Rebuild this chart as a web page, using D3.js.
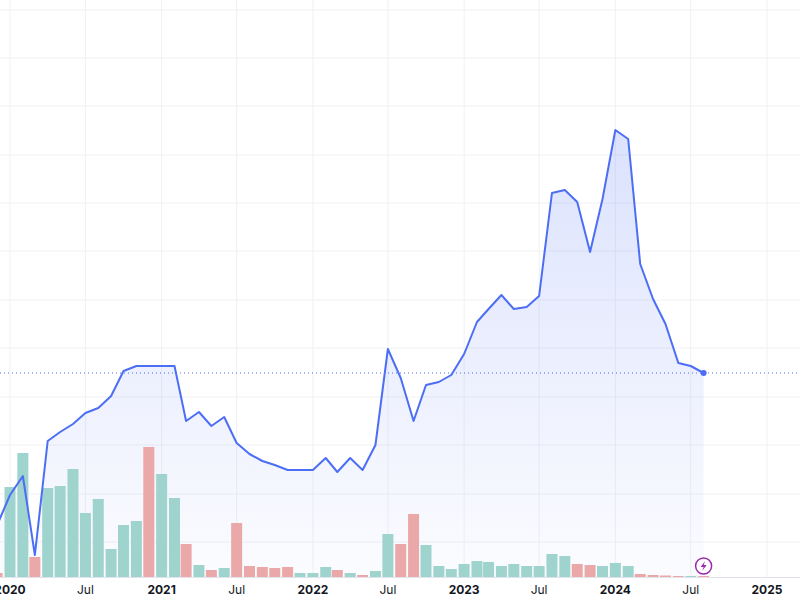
<!DOCTYPE html><html><head><meta charset="utf-8">
<script src="https://cdn.jsdelivr.net/npm/d3@7"></script>
<style>body{margin:0;background:#fff}svg{display:block;font-family:Inter,"Noto Sans",sans-serif}</style></head><body>
<svg id="c" width="800" height="600"></svg>
<script>
const startMonth = "2019-12";
const price = [75,105,124,45,159,168,176,187,192,204,229,234,234,234,234,179,188,174,183,157,146,139,135,130,130,130,142,128,142,130,155,251,222,179,215,218,225,246,278,291,305,291,293,304,407,410,398,348,401,470,461,336,301,276,237,234,227];
const volume = [4,90,124,20,89,91,108,64,78,28,52,56,130,103,79,33,12,7,9,54,11,10,9,10,4,4,10,7,4,2,6,43,33,63,32,11,8,13,16,15,11,13,11,11,23,21,13,12,11,14,11,3,2,1.5,1,1,1];
const up = [0,1,1,0,1,1,1,1,1,1,1,1,0,1,1,0,1,0,1,0,0,0,0,0,1,1,1,0,1,0,1,1,0,0,1,1,1,1,1,1,1,1,1,1,1,1,0,0,1,1,1,0,0,0,0,1,0];
const tickLabels = ["2020","Jul","2021","Jul","2022","Jul","2023","Jul","2024","Jul","2025"];
const tickDates = ["2020-01","2020-07","2021-01","2021-07","2022-01","2022-07","2023-01","2023-07","2024-01","2024-07","2025-01"];

const parse = d3.timeParse("%Y-%m");
const s = parse(startMonth);
const dates = price.map((_, i) => d3.timeMonth.offset(s, i));
const svg = d3.select("#c");
const x = d3.scaleTime().domain([parse("2020-01"), parse("2025-01")]).range([10, 767]);
const y = d3.scaleLinear().domain([0, 600]).range([600, 0]);
const yv = d3.scaleLinear().domain([0, 130]).range([577, 447]);

const defs = svg.append("defs");
const g = defs.append("linearGradient").attr("id","ag").attr("x1",0).attr("x2",0).attr("y1",0).attr("y2",1);
g.append("stop").attr("offset","0%").attr("stop-color","#4c6ef5").attr("stop-opacity",0.2);
g.append("stop").attr("offset","100%").attr("stop-color","#4c6ef5").attr("stop-opacity",0.02);

// grid
[10,58,106,155,203,251,300,348,397,445,494,542].forEach(gy =>
  svg.append("line").attr("x1",0).attr("x2",800).attr("y1",gy).attr("y2",gy).attr("stroke","#f0f1f3"));
tickDates.forEach(t => svg.append("line").attr("x1",x(parse(t))).attr("x2",x(parse(t))).attr("y1",0).attr("y2",577).attr("stroke","#f0f1f3"));

// area
svg.append("path").datum(price).attr("fill","url(#ag)")
  .attr("d", d3.area().x((d,i)=>x(dates[i])).y0(577).y1(d=>y(d)));

// volume
const bw = 11;
svg.selectAll("rect.v").data(volume).join("rect")
  .attr("x",(d,i)=>x(dates[i])-bw/2).attr("width",bw)
  .attr("y",d=>yv(d)).attr("height",d=>577-yv(d))
  .attr("fill",(d,i)=>up[i]?"#9fd3ce":"#eba8a8");

// line
svg.append("path").datum(price).attr("fill","none").attr("stroke","#4c6ef5").attr("stroke-width",2)
  .attr("stroke-linejoin","round")
  .attr("d", d3.line().x((d,i)=>x(dates[i])).y(d=>y(d)));

const last = price[price.length-1], lx = x(dates[dates.length-1]);
svg.append("line").attr("x1",0).attr("x2",800).attr("y1",y(last)).attr("y2",y(last))
  .attr("stroke","#4c6ef5").attr("stroke-dasharray","1,3").attr("stroke-width",1);
svg.append("circle").attr("cx",lx).attr("cy",y(last)).attr("r",3).attr("fill","#4c6ef5");

// axis
svg.append("line").attr("x1",0).attr("x2",800).attr("y1",577.5).attr("y2",577.5).attr("stroke","#e0e3eb");
tickDates.forEach((t,i)=>{
  svg.append("text").attr("x",x(parse(t))).attr("y",594).attr("text-anchor","middle")
    .attr("font-size",12).attr("fill","#131722").attr("font-weight", tickLabels[i]==="Jul"?400:700)
    .text(tickLabels[i]);
});

// icon
const ic = svg.append("g").attr("transform",`translate(${lx},566)`);
ic.append("circle").attr("r",8).attr("fill","#fff").attr("stroke","#9c27b0").attr("stroke-width",1.5);
ic.append("path").attr("d","M1.5,-5 L-3,1 L0,1 L-1.5,5 L3,-1 L0,-1 Z").attr("fill","#9c27b0");
</script></body></html>
